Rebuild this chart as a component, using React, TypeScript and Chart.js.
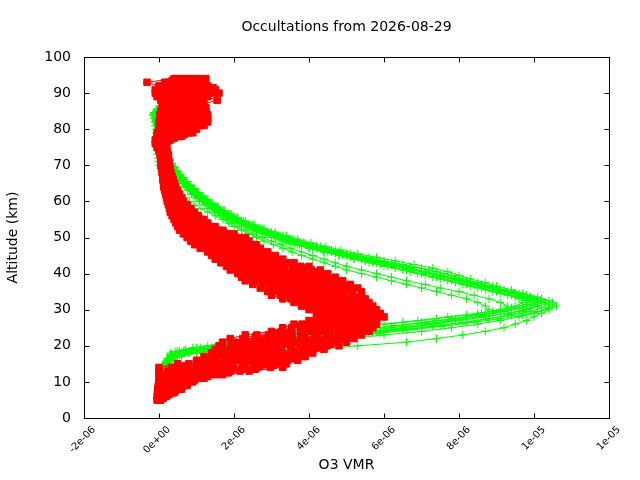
import { useEffect, useRef } from "react"
import { Chart, registerables } from "chart.js"

Chart.register(...registerables)

// Altitude grids of the retrieved profiles (km); some occultations sit half a km higher
const altitudeKm = [
  5, 6, 7, 8, 9, 10, 11, 12, 13, 14,
  15, 16, 17, 18, 19, 20, 21, 22, 23, 24,
  25, 26, 27, 28, 29, 30, 31, 32, 33, 34,
  35, 36, 37, 38, 39, 40, 41, 42, 43, 44,
  45, 46, 47, 48, 49, 50, 51, 52, 53, 54,
  55, 56, 57, 58, 59, 60, 61, 62, 63, 64,
  65, 66, 67, 68, 69, 70, 71, 72, 73, 74,
  75, 76, 77, 78, 79, 80, 81, 82, 83, 84,
  85, 86, 87, 88, 89, 90, 91, 92, 93, 94,
]
const altitudeHalfKm = [
  5.5, 6.5, 7.5, 8.5, 9.5, 10.5, 11.5, 12.5, 13.5, 14.5,
  15.5, 16.5, 17.5, 18.5, 19.5, 20.5, 21.5, 22.5, 23.5, 24.5,
  25.5, 26.5, 27.5, 28.5, 29.5, 30.5, 31.5, 32.5, 33.5, 34.5,
  35.5, 36.5, 37.5, 38.5, 39.5, 40.5, 41.5, 42.5, 43.5, 44.5,
  45.5, 46.5, 47.5, 48.5, 49.5, 50.5, 51.5, 52.5, 53.5, 54.5,
  55.5, 56.5, 57.5, 58.5, 59.5, 60.5, 61.5, 62.5, 63.5, 64.5,
  65.5, 66.5, 67.5, 68.5, 69.5, 70.5, 71.5, 72.5, 73.5, 74.5,
  75.5, 76.5, 77.5, 78.5, 79.5, 80.5, 81.5, 82.5, 83.5, 84.5,
  85.5, 86.5, 87.5, 88.5, 89.5, 90.5, 91.5, 92.5, 93.5,
]

// Green occultations, O3 in ppmv
const green01 = [
  0.03, 0.04, 0.05, 0.05, 0.06, 0.07, 0.08, 0.09, 0.1, 0.12,
  0.15, 0.22, 0.45, 1.0, 4.3, 5.3, 6.6, 7.4, 8.1, 8.7,
  9.2, 9.5, 9.8, 10.0, 10.2, 10.4, 10.6, 10.5, 10.2, 9.8,
  9.4, 9.0, 8.6, 8.2, 7.9, 7.6, 7.2, 6.7, 6.2, 5.7,
  5.2, 4.8, 4.4, 4.0, 3.7, 3.4, 3.1, 2.8, 2.5, 2.25,
  2.05, 1.88, 1.72, 1.56, 1.42, 1.3, 1.17, 1.05, 0.94, 0.84,
  0.74, 0.65, 0.56, 0.48, 0.41, 0.35, 0.29, 0.24, 0.19, 0.15,
  0.11, 0.08, 0.05, 0.02, 0.0, -0.03, -0.06, -0.09, -0.13, -0.16,
  -0.08, 0.06, 0.25, 0.5, 0.85, 1.6, 1.45, 1.3,
]
const green02 = [
  0.04, 0.05, 0.05, 0.06, 0.07, 0.08, 0.09, 0.1, 0.12, 0.15,
  0.2, 0.25, 0.3, 0.8, 1.6, 2.8, 4.0, 5.0, 6.0, 7.0,
  7.8, 8.5, 9.1, 9.6, 10.0, 10.3, 10.4, 10.3, 10.0, 9.6,
  9.2, 8.8, 8.4, 8.0, 7.6, 7.2, 6.8, 6.4, 6.0, 5.5,
  5.0, 4.6, 4.2, 3.8, 3.5, 3.2, 2.9, 2.65, 2.4, 2.2,
  2.0, 1.82, 1.65, 1.5, 1.36, 1.23, 1.1, 0.99, 0.88, 0.78,
  0.69, 0.6, 0.52, 0.45, 0.38, 0.32, 0.26, 0.21, 0.17, 0.13,
  0.1, 0.07, 0.04, 0.02, 0.0, -0.02, -0.04, -0.07, -0.1, -0.12,
  -0.05, 0.08, 0.22, 0.42, 0.65, 0.9, 1.08, 1.15,
]
const green03 = [
  0.04, 0.05, 0.06, 0.06, 0.07, 0.08, 0.1, 0.11, 0.13, 0.16,
  0.2, 0.3, 0.4, 0.6, 1.2, 2.1, 3.0, 3.9, 4.8, 5.7,
  6.5, 7.3, 8.0, 8.7, 9.3, 9.8, 10.1, 10.1, 9.8, 9.4,
  9.0, 8.6, 8.2, 7.8, 7.4, 7.0, 6.6, 6.1, 5.7, 5.2,
  4.8, 4.4, 4.0, 3.7, 3.4, 3.1, 2.85, 2.6, 2.35, 2.15,
  1.95, 1.78, 1.62, 1.47, 1.33, 1.2, 1.08, 0.96, 0.86, 0.76,
  0.67, 0.58, 0.5, 0.43, 0.37, 0.31, 0.25, 0.2, 0.16, 0.12,
  0.09, 0.06, 0.04, 0.01, -0.01, -0.03, -0.05, -0.07, -0.09, -0.1,
  -0.03, 0.1, 0.26, 0.45, 0.68, 0.92, 1.05, 1.12,
]
const green04 = [
  0.05, 0.05, 0.06, 0.07, 0.08, 0.09, 0.1, 0.12, 0.14, 0.17,
  0.2, 0.25, 0.3, 0.3, 0.7, 1.3, 2.0, 2.8, 3.6, 4.4,
  5.2, 6.0, 6.9, 7.7, 8.5, 9.1, 9.5, 9.7, 9.6, 9.3,
  8.9, 8.5, 8.1, 7.7, 7.3, 6.9, 6.5, 6.0, 5.6, 5.2,
  4.8, 4.4, 4.0, 3.6, 3.3, 3.0, 2.75, 2.5, 2.3, 2.1,
  1.9, 1.72, 1.56, 1.42, 1.28, 1.15, 1.03, 0.92, 0.82, 0.72,
  0.63, 0.55, 0.48, 0.41, 0.35, 0.29, 0.24, 0.19, 0.15, 0.11,
  0.08, 0.05, 0.03, 0.01, -0.01, -0.03, -0.05, -0.08, -0.1, -0.08,
  0.0, 0.12, 0.3, 0.5, 0.75, 1.0, 1.15, 1.22,
]
const green05 = [
  0.04, 0.04, 0.05, 0.06, 0.07, 0.08, 0.09, 0.11, 0.13, 0.15,
  0.18, 0.22, 0.3, 0.5, 1.0, 1.8, 2.6, 3.5, 4.4, 5.3,
  6.2, 7.0, 7.8, 8.6, 9.3, 9.8, 10.1, 10.2, 10.0, 9.7,
  9.3, 8.9, 8.5, 8.1, 7.7, 7.3, 6.8, 6.3, 5.8, 5.4,
  4.9, 4.5, 4.1, 3.75, 3.45, 3.15, 2.85, 2.6, 2.35, 2.15,
  1.95, 1.76, 1.6, 1.45, 1.31, 1.18, 1.06, 0.95, 0.84, 0.75,
  0.66, 0.57, 0.5, 0.43, 0.37, 0.31, 0.25, 0.2, 0.16, 0.12,
  0.09, 0.06, 0.04, 0.02, 0.0, -0.02, -0.04, -0.06, -0.08, -0.1,
  -0.04, 0.08, 0.24, 0.44, 0.66, 0.9, 1.02, 1.1,
]
const green06 = [
  0.05, 0.06, 0.06, 0.07, 0.08, 0.1, 0.11, 0.13, 0.15, 0.19,
  0.25, 0.35, 0.5, 0.8, 1.4, 2.2, 3.1, 4.0, 4.9, 5.8,
  6.6, 7.3, 7.9, 8.5, 8.9, 9.2, 9.3, 9.1, 8.8, 8.4,
  8.0, 7.5, 7.1, 6.6, 6.2, 5.8, 5.4, 5.0, 4.7, 4.4,
  4.1, 3.8, 3.5, 3.25, 3.0, 2.75, 2.5, 2.3, 2.1, 1.95,
  1.8, 1.64, 1.48, 1.34, 1.2, 1.08, 0.96, 0.86, 0.76, 0.67,
  0.59, 0.51, 0.44, 0.38, 0.32, 0.27, 0.22, 0.17, 0.13, 0.1,
  0.07, 0.05, 0.03, 0.01, -0.01, -0.03, -0.04, -0.06, -0.08, -0.09,
  -0.02, 0.1, 0.24, 0.42, 0.62, 0.84, 0.98, 1.05,
]
const green07 = [
  0.05, 0.06, 0.07, 0.08, 0.09, 0.1, 0.12, 0.14, 0.17, 0.21,
  0.28, 0.4, 0.6, 1.0, 1.7, 2.5, 3.4, 4.3, 5.1, 5.9,
  6.6, 7.2, 7.7, 8.2, 8.6, 8.8, 8.7, 8.5, 8.2, 7.8,
  7.4, 7.0, 6.6, 6.2, 5.8, 5.4, 5.0, 4.7, 4.4, 4.1,
  3.8, 3.55, 3.3, 3.05, 2.8, 2.6, 2.4, 2.2, 2.0, 1.85,
  1.7, 1.5, 1.3, 1.12, 0.96, 0.82, 0.7, 0.58, 0.48, 0.39,
  0.3, 0.22, 0.14, 0.08, 0.04, 0.0, -0.02, -0.03, -0.04, -0.05,
  -0.05, -0.06, -0.06, -0.07, -0.08, -0.09, -0.1, -0.12, -0.14, -0.15,
  -0.02, 0.08, 0.2, 0.36, 0.56, 0.78, 0.95, 1.02,
]
// these six sit on the half-km grid
const green08 = [
  0.04, 0.05, 0.05, 0.06, 0.07, 0.08, 0.09, 0.1, 0.12, 0.14,
  0.18, 0.24, 0.32, 0.65, 1.4, 2.5, 3.6, 4.6, 5.6, 6.5,
  7.3, 8.1, 8.8, 9.4, 9.9, 10.2, 10.3, 10.2, 9.9, 9.5,
  9.1, 8.7, 8.3, 7.9, 7.5, 7.1, 6.7, 6.2, 5.8, 5.4,
  5.0, 4.6, 4.2, 3.85, 3.55, 3.25, 2.95, 2.7, 2.45, 2.25,
  2.05, 1.86, 1.68, 1.52, 1.38, 1.25, 1.12, 1.0, 0.9, 0.8,
  0.7, 0.61, 0.53, 0.46, 0.39, 0.33, 0.27, 0.22, 0.17, 0.13,
  0.1, 0.07, 0.04, 0.02, 0.0, -0.02, -0.05, -0.08, -0.11, -0.13,
  -0.06, 0.06, 0.2, 0.4, 0.62, 0.86, 1.02, 1.1,
]
const green09 = [
  0.05, 0.05, 0.06, 0.07, 0.08, 0.09, 0.1, 0.12, 0.14, 0.17,
  0.22, 0.28, 0.35, 0.45, 0.9, 1.6, 2.4, 3.2, 4.0, 4.9,
  5.7, 6.5, 7.4, 8.2, 8.9, 9.4, 9.8, 9.9, 9.7, 9.4,
  9.0, 8.6, 8.2, 7.8, 7.4, 7.0, 6.6, 6.2, 5.7, 5.3,
  4.9, 4.5, 4.1, 3.75, 3.4, 3.1, 2.8, 2.55, 2.35, 2.15,
  1.95, 1.77, 1.6, 1.45, 1.31, 1.18, 1.06, 0.95, 0.85, 0.75,
  0.66, 0.58, 0.5, 0.43, 0.37, 0.31, 0.25, 0.2, 0.16, 0.12,
  0.09, 0.06, 0.04, 0.02, 0.0, -0.02, -0.04, -0.07, -0.09, -0.11,
  -0.04, 0.09, 0.25, 0.46, 0.7, 0.95, 1.1, 1.18,
]
const green10 = [
  0.04, 0.05, 0.05, 0.06, 0.07, 0.08, 0.09, 0.11, 0.13, 0.16,
  0.2, 0.26, 0.34, 0.55, 1.1, 2.0, 2.9, 3.8, 4.7, 5.5,
  6.3, 7.1, 7.9, 8.6, 9.2, 9.7, 10.0, 10.1, 9.9, 9.6,
  9.2, 8.9, 8.5, 8.1, 7.8, 7.4, 7.0, 6.5, 6.0, 5.6,
  5.1, 4.7, 4.3, 3.9, 3.6, 3.3, 3.0, 2.75, 2.5, 2.3,
  2.1, 1.9, 1.72, 1.56, 1.41, 1.28, 1.15, 1.03, 0.92, 0.82,
  0.72, 0.63, 0.55, 0.47, 0.4, 0.34, 0.28, 0.23, 0.18, 0.14,
  0.1, 0.07, 0.05, 0.02, 0.0, -0.02, -0.04, -0.07, -0.1, -0.12,
  -0.05, 0.07, 0.23, 0.43, 0.66, 0.9, 1.05, 1.12,
]
const green11 = [
  0.04, 0.05, 0.05, 0.06, 0.07, 0.08, 0.09, 0.1, 0.12, 0.14,
  0.18, 0.23, 0.3, 0.7, 1.5, 2.6, 3.7, 4.7, 5.7, 6.6,
  7.5, 8.2, 8.8, 9.3, 9.7, 9.9, 10.0, 9.8, 9.5, 9.1,
  8.7, 8.3, 7.9, 7.5, 7.1, 6.7, 6.3, 5.9, 5.5, 5.1,
  4.7, 4.35, 4.0, 3.65, 3.35, 3.05, 2.8, 2.55, 2.3, 2.1,
  1.9, 1.72, 1.56, 1.41, 1.27, 1.14, 1.02, 0.91, 0.81, 0.72,
  0.63, 0.55, 0.47, 0.41, 0.35, 0.29, 0.24, 0.19, 0.15, 0.11,
  0.08, 0.05, 0.03, 0.01, -0.01, -0.03, -0.05, -0.07, -0.09, -0.11,
  -0.03, 0.1, 0.27, 0.47, 0.7, 0.94, 1.08, 1.16,
]
const green12 = [
  0.05, 0.05, 0.06, 0.06, 0.07, 0.08, 0.1, 0.11, 0.13, 0.16,
  0.2, 0.27, 0.36, 0.5, 1.0, 1.9, 2.8, 3.7, 4.6, 5.4,
  6.2, 7.0, 7.8, 8.5, 9.1, 9.6, 9.9, 10.0, 9.8, 9.5,
  9.1, 8.7, 8.3, 7.9, 7.5, 7.1, 6.7, 6.3, 5.9, 5.45,
  5.0, 4.6, 4.2, 3.85, 3.5, 3.2, 2.9, 2.65, 2.4, 2.2,
  2.0, 1.82, 1.65, 1.5, 1.35, 1.22, 1.1, 0.98, 0.88, 0.78,
  0.69, 0.6, 0.52, 0.45, 0.38, 0.32, 0.27, 0.22, 0.17, 0.13,
  0.1, 0.07, 0.04, 0.02, 0.0, -0.02, -0.05, -0.07, -0.1, -0.12,
  -0.04, 0.08, 0.24, 0.44, 0.68, 0.92, 1.06, 1.14,
]
const green13 = [
  0.04, 0.04, 0.05, 0.06, 0.06, 0.07, 0.08, 0.1, 0.12, 0.14,
  0.18, 0.22, 0.3, 0.7, 1.5, 2.6, 3.8, 4.9, 5.9, 6.8,
  7.6, 8.4, 9.1, 9.7, 10.1, 10.4, 10.5, 10.4, 10.1, 9.7,
  9.4, 9.0, 8.7, 8.3, 8.0, 7.7, 7.3, 6.8, 6.3, 5.8,
  5.3, 4.85, 4.45, 4.05, 3.7, 3.4, 3.1, 2.8, 2.55, 2.3,
  2.1, 1.92, 1.75, 1.58, 1.44, 1.31, 1.18, 1.06, 0.95, 0.85,
  0.75, 0.66, 0.57, 0.49, 0.42, 0.35, 0.29, 0.24, 0.19, 0.15,
  0.11, 0.08, 0.05, 0.02, 0.0, -0.02, -0.05, -0.08, -0.12, -0.14,
  -0.06, 0.06, 0.22, 0.45, 0.75, 1.1, 1.3, 1.25,
]

// Red occultations, O3 in ppmv
const red01 = [
  -0.05, -0.05, -0.04, -0.03, -0.02, 0, 0, 0, 0, 0,
  0.5, 1.0, 1.2, 1.4, 1.5, 1.6, 1.7, 1.9, 2.3, 3.0,
  3.3, 3.6, 4.0, 4.2, 4.2, 4.0, 3.8, 3.6, 3.3, 3.0,
  2.9, 2.7, 2.5, 2.3, 2.2, 2.1, 1.9, 1.8, 1.65, 1.5,
  1.4, 1.3, 1.1, 0.95, 0.85, 0.75, 0.65, 0.55, 0.5, 0.45,
  0.4, 0.35, 0.3, 0.28, 0.25, 0.22, 0.2, 0.18, 0.15, 0.13,
  0.12, 0.1, 0.1, 0.08, 0.07, 0.05, 0.05, 0.04, 0.03, 0,
  -0.05, -0.1, -0.1, -0.05, -0.05, 0, 0.05, 0, 0.02, 0.02,
  0.05, 0.08, 0.1, 0.05, -0.05, -0.1, -0.1, 0, -0.32, 0.4,
]
const red02 = [
  -0.04, -0.03, 0, 0.03, 0.06, 0.09, 0.12, 0.17, 0.24, 0.33,
  0.79, 1.27, 1.47, 1.67, 1.79, 1.92, 2.03, 2.23, 2.61, 3.26,
  3.54, 3.82, 4.18, 4.38, 4.37, 4.18, 3.99, 3.8, 3.52, 3.24,
  3.15, 2.96, 2.76, 2.56, 2.45, 2.34, 2.14, 2.02, 1.85, 1.68,
  1.57, 1.46, 1.26, 1.12, 1.0, 0.9, 0.79, 0.67, 0.6, 0.54,
  0.48, 0.42, 0.37, 0.34, 0.3, 0.26, 0.24, 0.22, 0.19, 0.16,
  0.15, 0.13, 0.13, 0.1, 0.09, 0.07, 0.07, 0.06, 0.05, 0.02,
  -0.03, -0.07, -0.06, 0.02, 0.05, 0.1, 0.17, 0.13, 0.15, 0.14,
  0.17, 0.2, 0.21, 0.18, 0.09, 0.07, 0.06, 0.13, 0.15, 0.45,
]
const red03 = [
  -0.03, 0, 0.05, 0.1, 0.13, 0.18, 0.24, 0.34, 0.48, 0.66,
  1.08, 1.54, 1.74, 1.94, 2.08, 2.24, 2.36, 2.56, 2.92, 3.52,
  3.78, 4.04, 4.36, 4.56, 4.54, 4.36, 4.18, 4.0, 3.74, 3.48,
  3.4, 3.22, 3.02, 2.82, 2.7, 2.58, 2.38, 2.24, 2.04, 1.86,
  1.74, 1.62, 1.42, 1.28, 1.16, 1.06, 0.92, 0.78, 0.7, 0.62,
  0.56, 0.49, 0.43, 0.39, 0.35, 0.31, 0.28, 0.25, 0.22, 0.19,
  0.18, 0.16, 0.15, 0.13, 0.12, 0.1, 0.09, 0.08, 0.07, 0.04,
  0, -0.04, -0.02, 0.08, 0.14, 0.2, 0.28, 0.26, 0.27, 0.27,
  0.29, 0.31, 0.32, 0.3, 0.22, 0.24, 0.22, 0.26, 0.25, 0.53,
]
const red04 = [
  -0.02, 0.03, 0.09, 0.16, 0.21, 0.27, 0.36, 0.51, 0.72, 0.99,
  1.37, 1.81, 2.01, 2.21, 2.37, 2.56, 2.69, 2.89, 3.23, 3.78,
  4.02, 4.26, 4.54, 4.74, 4.71, 4.54, 4.37, 4.2, 3.96, 3.72,
  3.65, 3.48, 3.28, 3.08, 2.95, 2.82, 2.62, 2.46, 2.24, 2.04,
  1.91, 1.78, 1.58, 1.45, 1.31, 1.21, 1.06, 0.9, 0.8, 0.71,
  0.64, 0.56, 0.5, 0.45, 0.4, 0.35, 0.32, 0.29, 0.26, 0.23,
  0.21, 0.18, 0.18, 0.15, 0.14, 0.12, 0.12, 0.1, 0.1, 0.07,
  0.03, -0.01, 0.02, 0.15, 0.24, 0.3, 0.4, 0.39, 0.4, 0.4,
  0.41, 0.43, 0.43, 0.43, 0.36, 0.41, 0.38, 0.39, 0.35, 0.62,
]
const red05 = [
  -0.01, 0.05, 0.14, 0.22, 0.29, 0.36, 0.48, 0.68, 0.96, 1.32,
  1.66, 2.08, 2.28, 2.48, 2.66, 2.88, 3.02, 3.22, 3.54, 4.04,
  4.26, 4.48, 4.72, 4.92, 4.88, 4.72, 4.56, 4.4, 4.18, 3.96,
  3.9, 3.74, 3.54, 3.34, 3.2, 3.06, 2.86, 2.68, 2.43, 2.22,
  2.08, 1.94, 1.74, 1.61, 1.47, 1.37, 1.19, 1.01, 0.9, 0.79,
  0.72, 0.63, 0.56, 0.51, 0.45, 0.39, 0.36, 0.33, 0.29, 0.26,
  0.24, 0.21, 0.2, 0.18, 0.16, 0.14, 0.14, 0.12, 0.12, 0.09,
  0.05, 0.02, 0.06, 0.21, 0.33, 0.4, 0.51, 0.52, 0.53, 0.5,
  0.53, 0.55, 0.54, 0.55, 0.5, 0.58, 0.54, 0.52, 0.45, 0.71,
]
const red06 = [
  0, 0.08, 0.18, 0.29, 0.37, 0.45, 0.6, 0.85, 1.2, 1.65,
  1.95, 2.35, 2.55, 2.75, 2.95, 3.2, 3.35, 3.55, 3.85, 4.3,
  4.5, 4.7, 4.9, 5.1, 5.05, 4.9, 4.75, 4.6, 4.4, 4.2,
  4.15, 4.0, 3.8, 3.6, 3.45, 3.3, 3.1, 2.9, 2.63, 2.4,
  2.25, 2.1, 1.9, 1.78, 1.62, 1.52, 1.33, 1.13, 1.0, 0.88,
  0.8, 0.7, 0.63, 0.57, 0.5, 0.44, 0.4, 0.37, 0.33, 0.29,
  0.27, 0.24, 0.23, 0.2, 0.19, 0.17, 0.16, 0.15, 0.14, 0.11,
  0.08, 0.05, 0.1, 0.28, 0.43, 0.5, 0.63, 0.65, 0.65, 0.63,
  0.65, 0.67, 0.65, 0.68, 0.64, 0.75, 0.7, 0.65, 0.55, 0.8,
]
const red07 = [
  0.01, 0.1, 0.22, 0.35, 0.44, 0.54, 0.72, 1.02, 1.44, 1.98,
  2.24, 2.62, 2.82, 3.02, 3.24, 3.52, 3.68, 3.88, 4.16, 4.56,
  4.74, 4.92, 5.08, 5.28, 5.22, 5.08, 4.94, 4.8, 4.62, 4.44,
  4.4, 4.26, 4.06, 3.86, 3.7, 3.54, 3.34, 3.12, 2.82, 2.58,
  2.42, 2.26, 2.06, 1.94, 1.78, 1.68, 1.46, 1.24, 1.1, 0.96,
  0.88, 0.77, 0.69, 0.62, 0.55, 0.48, 0.44, 0.4, 0.36, 0.32,
  0.3, 0.27, 0.25, 0.22, 0.21, 0.19, 0.18, 0.17, 0.16, 0.13,
  0.1, 0.08, 0.14, 0.34, 0.52, 0.6, 0.74, 0.78, 0.78, 0.77,
  0.77, 0.78, 0.76, 0.8, 0.78, 0.92, 0.86, 0.78, 0.65, 0.89,
]
const red08 = [
  0.02, 0.13, 0.27, 0.41, 0.52, 0.63, 0.84, 1.19, 1.68, 2.31,
  2.53, 2.89, 3.09, 3.29, 3.53, 3.84, 4.01, 4.21, 4.47, 4.82,
  4.98, 5.14, 5.26, 5.46, 5.39, 5.26, 5.13, 5.0, 4.84, 4.68,
  4.65, 4.52, 4.32, 4.12, 3.95, 3.78, 3.58, 3.34, 3.02, 2.76,
  2.59, 2.42, 2.22, 2.11, 1.93, 1.83, 1.6, 1.36, 1.2, 1.05,
  0.96, 0.84, 0.76, 0.68, 0.6, 0.52, 0.48, 0.44, 0.4, 0.35,
  0.33, 0.3, 0.28, 0.25, 0.23, 0.21, 0.2, 0.19, 0.18, 0.15,
  0.13, 0.11, 0.18, 0.41, 0.62, 0.7, 0.86, 0.91, 0.9, 0.9,
  0.89, 0.9, 0.87, 0.93, 0.92, 1.09, 1.02, 0.91, 0.75, 0.98,
]
const red09 = [
  0.03, 0.15, 0.31, 0.47, 0.6, 0.72, 0.96, 1.36, 1.92, 2.64,
  2.82, 3.16, 3.36, 3.56, 3.82, 4.16, 4.34, 4.54, 4.78, 5.08,
  5.22, 5.36, 5.44, 5.64, 5.56, 5.44, 5.32, 5.2, 5.06, 4.92,
  4.9, 4.78, 4.58, 4.38, 4.2, 4.02, 3.82, 3.56, 3.21, 2.94,
  2.76, 2.58, 2.38, 2.27, 2.09, 1.99, 1.73, 1.47, 1.3, 1.13,
  1.04, 0.91, 0.82, 0.74, 0.65, 0.56, 0.52, 0.48, 0.43, 0.39,
  0.36, 0.32, 0.3, 0.27, 0.25, 0.23, 0.23, 0.21, 0.21, 0.18,
  0.15, 0.14, 0.22, 0.47, 0.71, 0.8, 0.97, 1.04, 1.03, 1.02,
  1.01, 1.02, 0.98, 1.05, 1.05, 1.26, 1.18, 1.04, 0.85, 1.07,
]
const red10 = [
  0.04, 0.18, 0.36, 0.54, 0.67, 0.81, 1.08, 1.53, 2.16, 2.97,
  3.11, 3.43, 3.63, 3.83, 4.11, 4.48, 4.67, 4.87, 5.09, 5.34,
  5.46, 5.58, 5.62, 5.82, 5.73, 5.62, 5.51, 5.4, 5.28, 5.16,
  5.15, 5.04, 4.84, 4.64, 4.45, 4.26, 4.06, 3.78, 3.41, 3.12,
  2.93, 2.74, 2.54, 2.44, 2.24, 2.14, 1.87, 1.59, 1.4, 1.22,
  1.12, 0.98, 0.89, 0.79, 0.7, 0.61, 0.56, 0.51, 0.47, 0.42,
  0.39, 0.35, 0.33, 0.3, 0.28, 0.26, 0.25, 0.23, 0.23, 0.2,
  0.18, 0.17, 0.26, 0.54, 0.81, 0.9, 1.09, 1.17, 1.16, 1.15,
  1.13, 1.13, 1.09, 1.18, 1.2, 1.43, 1.34, 1.17, 0.95, 1.16,
]
const red11 = [
  0.05, 0.2, 0.4, 0.6, 0.75, 0.9, 1.2, 1.7, 2.4, 3.3,
  3.4, 3.7, 3.9, 4.1, 4.4, 4.8, 5.0, 5.2, 5.4, 5.6,
  5.7, 5.8, 5.8, 6.0, 5.9, 5.8, 5.7, 5.6, 5.5, 5.4,
  5.4, 5.3, 5.1, 4.9, 4.7, 4.5, 4.3, 4.0, 3.6, 3.3,
  3.1, 2.9, 2.7, 2.6, 2.4, 2.3, 2.0, 1.7, 1.5, 1.3,
  1.2, 1.05, 0.95, 0.85, 0.75, 0.65, 0.6, 0.55, 0.5, 0.45,
  0.42, 0.38, 0.35, 0.32, 0.3, 0.28, 0.27, 0.25, 0.25, 0.22,
  0.2, 0.2, 0.3, 0.6, 0.9, 1.0, 1.2, 1.3, 1.3, 1.3,
  1.25, 1.25, 1.2, 1.55, 1.3, 1.6, 1.5, 1.3, 1.05, 1.25,
]
// these seven sit on the half-km grid
const red12 = [
  -0.02, 0.01, 0.04, 0.08, 0.11, 0.16, 0.22, 0.31, 0.43, 0.72,
  1.17, 1.5, 1.7, 1.87, 2.01, 2.14, 2.3, 2.58, 3.08, 3.53,
  3.8, 4.1, 4.37, 4.46, 4.36, 4.18, 3.99, 3.77, 3.5, 3.32,
  3.18, 2.99, 2.79, 2.63, 2.52, 2.36, 2.2, 2.03, 1.85, 1.71,
  1.6, 1.44, 1.26, 1.14, 1.03, 0.92, 0.79, 0.68, 0.61, 0.54,
  0.48, 0.42, 0.38, 0.34, 0.3, 0.27, 0.25, 0.21, 0.19, 0.17,
  0.15, 0.14, 0.13, 0.1, 0.09, 0.08, 0.07, 0.06, 0.04, 0.01,
  -0.03, -0.05, 0.01, 0.07, 0.13, 0.18, 0.21, 0.21, 0.22, 0.22,
  0.24, 0.26, 0.25, 0.2, 0.15, 0.16, 0.2, 0.2, 0.35,
]
const red13 = [
  0.02, 0.1, 0.18, 0.26, 0.32, 0.42, 0.58, 0.82, 1.14, 1.49,
  1.87, 2.18, 2.38, 2.57, 2.77, 2.95, 3.12, 3.38, 3.79, 4.15,
  4.37, 4.6, 4.82, 4.9, 4.8, 4.64, 4.48, 4.29, 4.07, 3.93,
  3.82, 3.64, 3.44, 3.27, 3.13, 2.96, 2.77, 2.55, 2.32, 2.15,
  2.01, 1.84, 1.67, 1.54, 1.42, 1.28, 1.1, 0.95, 0.84, 0.75,
  0.67, 0.59, 0.53, 0.47, 0.41, 0.37, 0.34, 0.3, 0.27, 0.24,
  0.23, 0.2, 0.19, 0.16, 0.15, 0.14, 0.12, 0.11, 0.1, 0.07,
  0.04, 0.04, 0.14, 0.27, 0.37, 0.45, 0.52, 0.53, 0.54, 0.53,
  0.54, 0.54, 0.54, 0.52, 0.52, 0.58, 0.61, 0.52, 0.6,
]
const red14 = [
  0.07, 0.18, 0.31, 0.43, 0.53, 0.68, 0.94, 1.33, 1.85, 2.27,
  2.57, 2.86, 3.06, 3.27, 3.53, 3.76, 3.95, 4.18, 4.5, 4.78,
  4.95, 5.1, 5.27, 5.34, 5.24, 5.1, 4.97, 4.82, 4.65, 4.54,
  4.46, 4.29, 4.09, 3.9, 3.74, 3.56, 3.35, 3.07, 2.79, 2.59,
  2.42, 2.24, 2.07, 1.94, 1.81, 1.64, 1.41, 1.22, 1.07, 0.95,
  0.86, 0.76, 0.69, 0.6, 0.53, 0.48, 0.44, 0.39, 0.35, 0.32,
  0.3, 0.27, 0.25, 0.22, 0.21, 0.19, 0.18, 0.17, 0.15, 0.13,
  0.11, 0.13, 0.27, 0.47, 0.61, 0.72, 0.82, 0.86, 0.87, 0.84,
  0.84, 0.82, 0.83, 0.85, 0.9, 1.01, 1.02, 0.85, 0.85,
]
const red15 = [
  0.11, 0.27, 0.44, 0.61, 0.74, 0.95, 1.3, 1.85, 2.57, 3.04,
  3.27, 3.53, 3.73, 3.97, 4.3, 4.58, 4.77, 4.98, 5.22, 5.4,
  5.52, 5.6, 5.72, 5.78, 5.68, 5.57, 5.46, 5.34, 5.22, 5.16,
  5.1, 4.94, 4.74, 4.55, 4.36, 4.16, 3.92, 3.58, 3.25, 3.03,
  2.84, 2.64, 2.48, 2.34, 2.2, 2.0, 1.72, 1.48, 1.3, 1.16,
  1.05, 0.92, 0.84, 0.74, 0.64, 0.58, 0.53, 0.48, 0.44, 0.4,
  0.37, 0.33, 0.31, 0.28, 0.27, 0.25, 0.23, 0.22, 0.21, 0.19,
  0.17, 0.22, 0.4, 0.67, 0.85, 0.98, 1.13, 1.18, 1.19, 1.16,
  1.14, 1.11, 1.12, 1.17, 1.27, 1.43, 1.44, 1.17, 1.1,
]
const red16 = [
  0.0, 0.05, 0.11, 0.17, 0.22, 0.29, 0.4, 0.56, 0.78, 1.1,
  1.52, 1.84, 2.04, 2.22, 2.39, 2.54, 2.71, 2.98, 3.43, 3.84,
  4.08, 4.35, 4.6, 4.68, 4.58, 4.41, 4.24, 4.03, 3.78, 3.62,
  3.5, 3.32, 3.12, 2.95, 2.82, 2.66, 2.48, 2.29, 2.08, 1.93,
  1.8, 1.64, 1.47, 1.34, 1.23, 1.1, 0.94, 0.81, 0.72, 0.65,
  0.58, 0.5, 0.46, 0.41, 0.36, 0.32, 0.29, 0.26, 0.23, 0.21,
  0.19, 0.17, 0.16, 0.13, 0.12, 0.11, 0.1, 0.09, 0.07, 0.04,
  0.0, 0.0, 0.07, 0.17, 0.25, 0.31, 0.37, 0.37, 0.38, 0.37,
  0.39, 0.4, 0.39, 0.36, 0.33, 0.37, 0.4, 0.36, 0.48,
]
const red17 = [
  0.04, 0.14, 0.24, 0.34, 0.43, 0.55, 0.76, 1.08, 1.5, 1.88,
  2.22, 2.52, 2.72, 2.92, 3.15, 3.36, 3.53, 3.78, 4.15, 4.46,
  4.66, 4.85, 5.05, 5.12, 5.02, 4.87, 4.72, 4.55, 4.36, 4.24,
  4.14, 3.97, 3.77, 3.59, 3.44, 3.26, 3.06, 2.81, 2.55, 2.37,
  2.22, 2.04, 1.87, 1.74, 1.61, 1.46, 1.26, 1.08, 0.95, 0.85,
  0.76, 0.67, 0.61, 0.54, 0.47, 0.43, 0.39, 0.35, 0.31, 0.28,
  0.26, 0.24, 0.22, 0.19, 0.18, 0.17, 0.15, 0.14, 0.13, 0.1,
  0.07, 0.08, 0.2, 0.37, 0.49, 0.58, 0.67, 0.69, 0.7, 0.69,
  0.69, 0.68, 0.68, 0.68, 0.71, 0.79, 0.82, 0.68, 0.73,
]
const red18 = [
  0.09, 0.23, 0.38, 0.52, 0.63, 0.81, 1.12, 1.59, 2.21, 2.65,
  2.92, 3.19, 3.39, 3.62, 3.91, 4.17, 4.36, 4.58, 4.86, 5.09,
  5.23, 5.35, 5.5, 5.56, 5.46, 5.33, 5.21, 5.08, 4.93, 4.85,
  4.78, 4.62, 4.42, 4.23, 4.05, 3.86, 3.63, 3.32, 3.02, 2.81,
  2.63, 2.44, 2.28, 2.14, 2.0, 1.82, 1.57, 1.35, 1.18, 1.06,
  0.95, 0.84, 0.76, 0.67, 0.59, 0.53, 0.48, 0.44, 0.4, 0.36,
  0.33, 0.3, 0.28, 0.25, 0.24, 0.22, 0.2, 0.19, 0.18, 0.16,
  0.14, 0.17, 0.33, 0.57, 0.73, 0.85, 0.98, 1.02, 1.03, 1.0,
  0.99, 0.97, 0.98, 1.01, 1.08, 1.22, 1.23, 1.0, 0.98,
]

const greenOnKm = [green01, green02, green03, green04, green05, green06, green07]
const greenOnHalfKm = [green08, green09, green10, green11, green12, green13]
const redOnKm = [red01, red02, red03, red04, red05, red06, red07, red08, red09, red10, red11]
const redOnHalfKm = [red12, red13, red14, red15, red16, red17, red18]

const xTickValues = [-2e-6, 0, 2e-6, 4e-6, 6e-6, 8e-6, 1e-5, 1.2e-5]
const xTickLabels = ["-2e-06", "0e+00", "2e-06", "4e-06", "6e-06", "8e-06", "1e-05", "1e-05"]
const yTickValues = [0, 10, 20, 30, 40, 50, 60, 70, 80, 90, 100]

const title = "Occultations from 2026-08-29"
const xTitle = "O3 VMR"
const yTitle = "Altitude (km)"

const GREEN = "#00ff00"
const RED = "#ff0000"
const FONT = "'DejaVu Sans', sans-serif"

const toPoints = (ppmv: number[], alts: number[]) =>
  ppmv.map((v, i) => ({ x: v * 1e-6, y: alts[i] }))

// gnuplot-like frame: border, inward tics on all four sides, titles
const framePlugin = {
  id: "frame",
  afterDraw(chart: Chart) {
    const { ctx, chartArea: a, scales } = chart
    const left = Math.round(a.left) + 0.5
    const right = Math.round(a.right) + 0.5
    const top = Math.round(a.top) + 0.5
    const bottom = Math.round(a.bottom) + 0.5
    const tic = 5

    ctx.save()
    ctx.strokeStyle = "#000"
    ctx.lineWidth = 1
    ctx.beginPath()
    xTickValues.forEach((v) => {
      const x = Math.round(scales.x.getPixelForValue(v)) + 0.5
      ctx.moveTo(x, bottom)
      ctx.lineTo(x, bottom - tic)
      ctx.moveTo(x, top)
      ctx.lineTo(x, top + tic)
    })
    yTickValues.forEach((v) => {
      const y = Math.round(scales.y.getPixelForValue(v)) + 0.5
      ctx.moveTo(left, y)
      ctx.lineTo(left + tic, y)
      ctx.moveTo(right, y)
      ctx.lineTo(right - tic, y)
    })
    ctx.stroke()
    ctx.strokeRect(left, top, right - left, bottom - top)

    ctx.fillStyle = "#000"
    ctx.textAlign = "center"
    ctx.textBaseline = "middle"
    const cx = (a.left + a.right) / 2
    ctx.font = `14px ${FONT}`
    ctx.fillText(title, cx, 27)
    ctx.fillText(xTitle, cx, 465)
    ctx.translate(13, (a.top + a.bottom) / 2)
    ctx.rotate(-Math.PI / 2)
    ctx.fillText(yTitle, 0, 0)
    ctx.restore()
  },
}

const redStyle = {
  showLine: true,
  borderColor: RED,
  borderWidth: 1,
  backgroundColor: RED,
  pointStyle: "rect" as const,
  pointRadius: 4.6,
  pointBorderWidth: 1,
  pointBackgroundColor: RED,
  pointBorderColor: RED,
}
const greenStyle = {
  showLine: true,
  borderColor: GREEN,
  borderWidth: 1,
  backgroundColor: GREEN,
  pointStyle: "cross" as const,
  pointRadius: 4,
  pointBorderWidth: 1,
  pointBorderColor: GREEN,
}

const App = () => {
  const chartRef = useRef<HTMLCanvasElement>(null)
  const chartInstance = useRef<Chart | null>(null)

  useEffect(() => {
    document.body.style.margin = "0"
    if (!chartRef.current) return
    const ctx = chartRef.current.getContext("2d")
    if (!ctx) return

    if (chartInstance.current) {
      chartInstance.current.destroy()
    }

    // red first so it is painted on top of the green profiles
    const datasets = [
      ...redOnKm.map((p, i) => ({ label: `red ${i + 1}`, data: toPoints(p, altitudeKm), ...redStyle })),
      ...redOnHalfKm.map((p, i) => ({ label: `red ${i + 12}`, data: toPoints(p, altitudeHalfKm), ...redStyle })),
      ...greenOnKm.map((p, i) => ({ label: `green ${i + 1}`, data: toPoints(p, altitudeKm), ...greenStyle })),
      ...greenOnHalfKm.map((p, i) => ({ label: `green ${i + 8}`, data: toPoints(p, altitudeHalfKm), ...greenStyle })),
    ]

    chartInstance.current = new Chart(ctx, {
      type: "scatter",
      data: { datasets },
      options: {
        responsive: true,
        maintainAspectRatio: false,
        animation: false,
        layout: { padding: { top: 57, right: 31, bottom: 0, left: 0 } },
        plugins: {
          legend: { display: false },
          tooltip: { enabled: false },
        },
        scales: {
          x: {
            type: "linear",
            min: -2e-6,
            max: 1.2e-5,
            afterBuildTicks: (scale) => {
              scale.ticks = xTickValues.map((value) => ({ value }))
            },
            afterFit: (scale) => {
              scale.height = 62
            },
            grid: { display: false, drawTicks: false },
            border: { display: false },
            ticks: {
              autoSkip: false,
              minRotation: 45,
              maxRotation: 45,
              padding: 6,
              labelOffset: 10,
              color: "#000",
              font: { family: FONT, size: 10 },
              callback: (_value, index) => xTickLabels[index],
            },
          },
          y: {
            type: "linear",
            min: 0,
            max: 100,
            afterBuildTicks: (scale) => {
              scale.ticks = yTickValues.map((value) => ({ value }))
            },
            afterFit: (scale) => {
              scale.width = 84
            },
            grid: { display: false, drawTicks: false },
            border: { display: false },
            ticks: {
              padding: 13,
              color: "#000",
              font: { family: FONT, size: 14 },
            },
          },
        },
      },
      plugins: [framePlugin],
    })

    return () => {
      if (chartInstance.current) {
        chartInstance.current.destroy()
        chartInstance.current = null
      }
    }
  }, [])

  return (
    <div style={{ width: 640, height: 480, position: "relative", background: "#fff" }}>
      <canvas ref={chartRef} />
    </div>
  )
}

export default App
